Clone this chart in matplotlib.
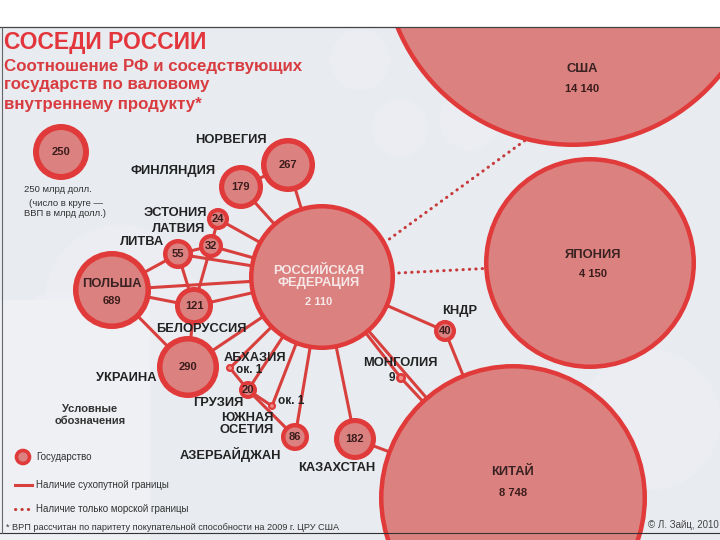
import matplotlib.pyplot as plt
from matplotlib.patches import Circle, Rectangle

plt.rcParams['font.family'] = ['Liberation Sans', 'DejaVu Sans']

# ВВП по ППС, млрд долл., 2009
countries = ['Россия', 'США', 'Япония', 'Китай', 'Норвегия', 'Финляндия',
             'Эстония', 'Латвия', 'Литва', 'Польша', 'Белоруссия', 'Украина',
             'Абхазия', 'Грузия', 'Южная Осетия', 'Азербайджан', 'Казахстан',
             'Монголия', 'КНДР']
gdp = [2110, 14140, 4150, 8748, 267, 179, 24, 32, 55, 689, 121, 290,
       1, 20, 1, 86, 182, 9, 40]
titles = ['РОССИЙСКАЯ\nФЕДЕРАЦИЯ', 'США', 'ЯПОНИЯ', 'КИТАЙ', 'НОРВЕГИЯ',
          'ФИНЛЯНДИЯ', 'ЭСТОНИЯ', 'ЛАТВИЯ', 'ЛИТВА', 'ПОЛЬША', 'БЕЛОРУССИЯ',
          'УКРАИНА', 'АБХАЗИЯ', 'ГРУЗИЯ', 'ЮЖНАЯ\nОСЕТИЯ', 'АЗЕРБАЙДЖАН',
          'КАЗАХСТАН', 'МОНГОЛИЯ', 'КНДР']
approx = ['Абхазия', 'Южная Осетия']  # "ок. 1"

land_borders = [
    ('Россия', 'Норвегия'), ('Россия', 'Финляндия'), ('Норвегия', 'Финляндия'),
    ('Россия', 'Эстония'), ('Россия', 'Латвия'), ('Эстония', 'Латвия'),
    ('Россия', 'Литва'), ('Россия', 'Польша'), ('Россия', 'Белоруссия'),
    ('Латвия', 'Литва'), ('Латвия', 'Белоруссия'), ('Литва', 'Белоруссия'),
    ('Литва', 'Польша'), ('Польша', 'Белоруссия'), ('Польша', 'Украина'),
    ('Белоруссия', 'Украина'), ('Россия', 'Украина'),
    ('Россия', 'Абхазия'), ('Россия', 'Грузия'), ('Россия', 'Южная Осетия'),
    ('Абхазия', 'Грузия'), ('Грузия', 'Южная Осетия'), ('Грузия', 'Азербайджан'),
    ('Россия', 'Азербайджан'), ('Россия', 'Казахстан'), ('Казахстан', 'Китай'),
    ('Россия', 'Монголия'), ('Монголия', 'Китай'), ('Россия', 'Китай'),
    ('Россия', 'КНДР'), ('КНДР', 'Китай'),
]
sea_borders = [('Россия', 'США'), ('Россия', 'Япония')]

# page layout, pixels from top-left: centre x, centre y, radius
layout = {
    'Россия': (322, 277, 73), 'США': (573, -45, 192), 'Япония': (590, 263, 106),
    'Китай': (513, 498, 134), 'Норвегия': (288, 165, 27),
    'Финляндия': (241, 187, 22), 'Эстония': (218, 219, 11),
    'Латвия': (211, 246, 12), 'Литва': (178, 254, 15), 'Польша': (112, 290, 39),
    'Белоруссия': (194, 306, 19), 'Украина': (188, 367, 31),
    'Абхазия': (230, 368, 4), 'Грузия': (248, 390, 9),
    'Южная Осетия': (272, 406, 4), 'Азербайджан': (295, 437, 14),
    'Казахстан': (355, 439, 21), 'Монголия': (401, 378, 5), 'КНДР': (445, 331, 11),
}
# where names go: x, y, alignment
label_at = {
    'Россия': (319, 277, 'center'), 'США': (582, 69, 'center'),
    'Япония': (593, 255, 'center'), 'Китай': (513, 472, 'center'),
    'Норвегия': (231, 140, 'center'), 'Финляндия': (173, 171, 'center'),
    'Эстония': (207, 213, 'right'), 'Латвия': (205, 229, 'right'),
    'Литва': (164, 242, 'right'), 'Польша': (112, 284, 'center'),
    'Белоруссия': (201, 329, 'center'), 'Украина': (157, 378, 'right'),
    'Абхазия': (255, 358, 'center'), 'Грузия': (243, 403, 'right'),
    'Южная Осетия': (247, 424, 'center'), 'Азербайджан': (230, 455, 'center'),
    'Казахстан': (337, 468, 'center'), 'Монголия': (400, 363, 'center'),
    'КНДР': (460, 311, 'center'),
}
value_at = {
    'Россия': (319, 302, 'center'), 'США': (582, 89, 'center'),
    'Япония': (593, 274, 'center'), 'Китай': (513, 493, 'center'),
    'Польша': (112, 301, 'center'), 'Абхазия': (236, 370, 'left'),
    'Южная Осетия': (278, 401, 'left'), 'Монголия': (395, 378, 'right'),
}
# the sea link to the USA does not run centre to centre
link_ends = {('Россия', 'США'): ((322, 288), (560, 115))}

RED = '#e03a3a'
FILL = '#db8280'
LINE = '#d8403e'
INK = '#222222'


def fmt(v):
    return f"{v:,}".replace(',', ' ')


fig = plt.figure(figsize=(7.2, 5.4), dpi=100)
ax = fig.add_axes([0, 0, 1, 1])
ax.set_xlim(0, 720)
ax.set_ylim(540, 0)
ax.axis('off')
fig.patch.set_facecolor('#e8ebf0')

# faint show-through of the other side of the page
ax.add_patch(Rectangle((0, 300), 150, 240, facecolor='#eef0f3', edgecolor='none', zorder=0.5))
for (gx, gy, gr) in [(400, 128, 28), (470, 120, 30), (120, 300, 75),
                     (650, 420, 70), (60, 330, 40), (360, 60, 30)]:
    ax.add_patch(Circle((gx, gy), gr, facecolor='#eef0f4', edgecolor='none',
                        alpha=0.6, zorder=1))

# borders
for pair in land_borders:
    (x1, y1, _), (x2, y2, _) = layout[pair[0]], layout[pair[1]]
    ax.plot([x1, x2], [y1, y2], color=LINE, lw=2.2, solid_capstyle='round', zorder=2)
for pair in sea_borders:
    if pair in link_ends:
        (x1, y1), (x2, y2) = link_ends[pair]
    else:
        (x1, y1, _), (x2, y2, _) = layout[pair[0]], layout[pair[1]]
    ax.plot([x1, x2], [y1, y2], color='#c83a3a', lw=2.2,
            linestyle=(0, (0.1, 2.0)), dash_capstyle='round', zorder=2)

# states
for name, value, title in zip(countries, gdp, titles):
    x, y, r = layout[name]
    if r < 6:
        ax.add_patch(Circle((x, y), r, facecolor=RED, edgecolor='none', zorder=3))
        ax.add_patch(Circle((x, y), r * 0.45, facecolor='#ee8c86', edgecolor='none', zorder=3))
    else:
        ring = min(5.5, 3 + r * 0.1) if r < 60 else 4.5
        ax.add_patch(Circle((x, y), r - ring / 2, facecolor=FILL, edgecolor=RED,
                            lw=ring * 0.72, zorder=3))

    lx, ly, ha = label_at[name]
    big = r >= 39
    color = '#f6e8e8' if name == 'Россия' else ('#3a2222' if big else INK)
    ax.text(lx, ly, title, ha=ha, va='center', fontsize=9.3, fontweight='bold',
            color=color, linespacing=1.0, zorder=5)

    vtxt = 'ок. 1' if name in approx else fmt(value)
    vx, vy, vha = value_at.get(name, (x, y, 'center'))
    vcolor = '#f6e8e8' if name == 'Россия' else ('#222222' if name in value_at and r < 6 else '#3b1c1c')
    ax.text(vx, vy, vtxt, ha=vha, va='center', fontsize=8 if r >= 9 else 8.5,
            fontweight='bold', color=vcolor, zorder=5)

# heading
ax.text(4, 42, 'СОСЕДИ РОССИИ', fontsize=16.5, fontweight='bold', color='#e2363c',
        va='center', ha='left', zorder=5)
for i, line in enumerate(['Соотношение РФ и соседствующих',
                          'государств по валовому',
                          'внутреннему продукту*']):
    ax.text(4, 66 + i * 19, line, fontsize=12.2, fontweight='bold', color='#d83c40',
            va='center', ha='left', zorder=5)

# scale key
ax.add_patch(Circle((61, 152), 25, facecolor=FILL, edgecolor=RED, lw=4.3, zorder=3))
ax.text(61, 152, '250', ha='center', va='center', fontsize=8, fontweight='bold',
        color='#3b1c1c', zorder=5)
ax.text(58, 190, '250 млрд долл.', ha='center', va='center', fontsize=6.8, color='#333', zorder=5)
ax.text(66, 203, '(число в круге —', ha='center', va='center', fontsize=6.8, color='#333', zorder=5)
ax.text(65, 214, 'ВВП в млрд долл.)', ha='center', va='center', fontsize=6.8, color='#333', zorder=5)

# legend
ax.text(90, 415, 'Условные\nобозначения', ha='center', va='center', fontsize=8,
        fontweight='bold', color='#333', linespacing=1.15, zorder=5)
ax.add_patch(Circle((23, 457), 6.5, facecolor=FILL, edgecolor=RED, lw=2.6, zorder=3))
ax.text(36, 457, 'Государство', ha='left', va='center', fontsize=7, color='#333', zorder=5)
ax.plot([15, 32], [485, 485], color=LINE, lw=2.2, zorder=3)
ax.text(36, 485, 'Наличие сухопутной границы', ha='left', va='center', fontsize=7,
        color='#333', zorder=5)
ax.plot([15, 32], [509, 509], color='#c83a3a', lw=2.2, linestyle=(0, (0.1, 2.0)),
        dash_capstyle='round', zorder=3)
ax.text(36, 509, 'Наличие только морской границы', ha='left', va='center', fontsize=7,
        color='#333', zorder=5)

# footnote and credit
ax.text(6, 528, '* ВРП рассчитан по паритету покупательной способности на 2009 г. ЦРУ США',
        ha='left', va='center', fontsize=6.6, color='#333', zorder=7)
ax.text(648, 525, '© Л. Зайц, 2010', ha='left', va='center', fontsize=7, color='#444', zorder=7)
ax.plot([0, 720], [533, 533], color='#333', lw=0.8, zorder=6)

# scanned page edge
ax.add_patch(Rectangle((0, 0), 720, 27, facecolor='white', edgecolor='none', zorder=6))
ax.plot([0, 720], [27, 27], color='#444', lw=0.9, zorder=7)
ax.plot([1.5, 1.5], [27, 533], color='#666', lw=0.8, zorder=7)

fig.savefig('out.png', dpi=100, facecolor=fig.get_facecolor())
